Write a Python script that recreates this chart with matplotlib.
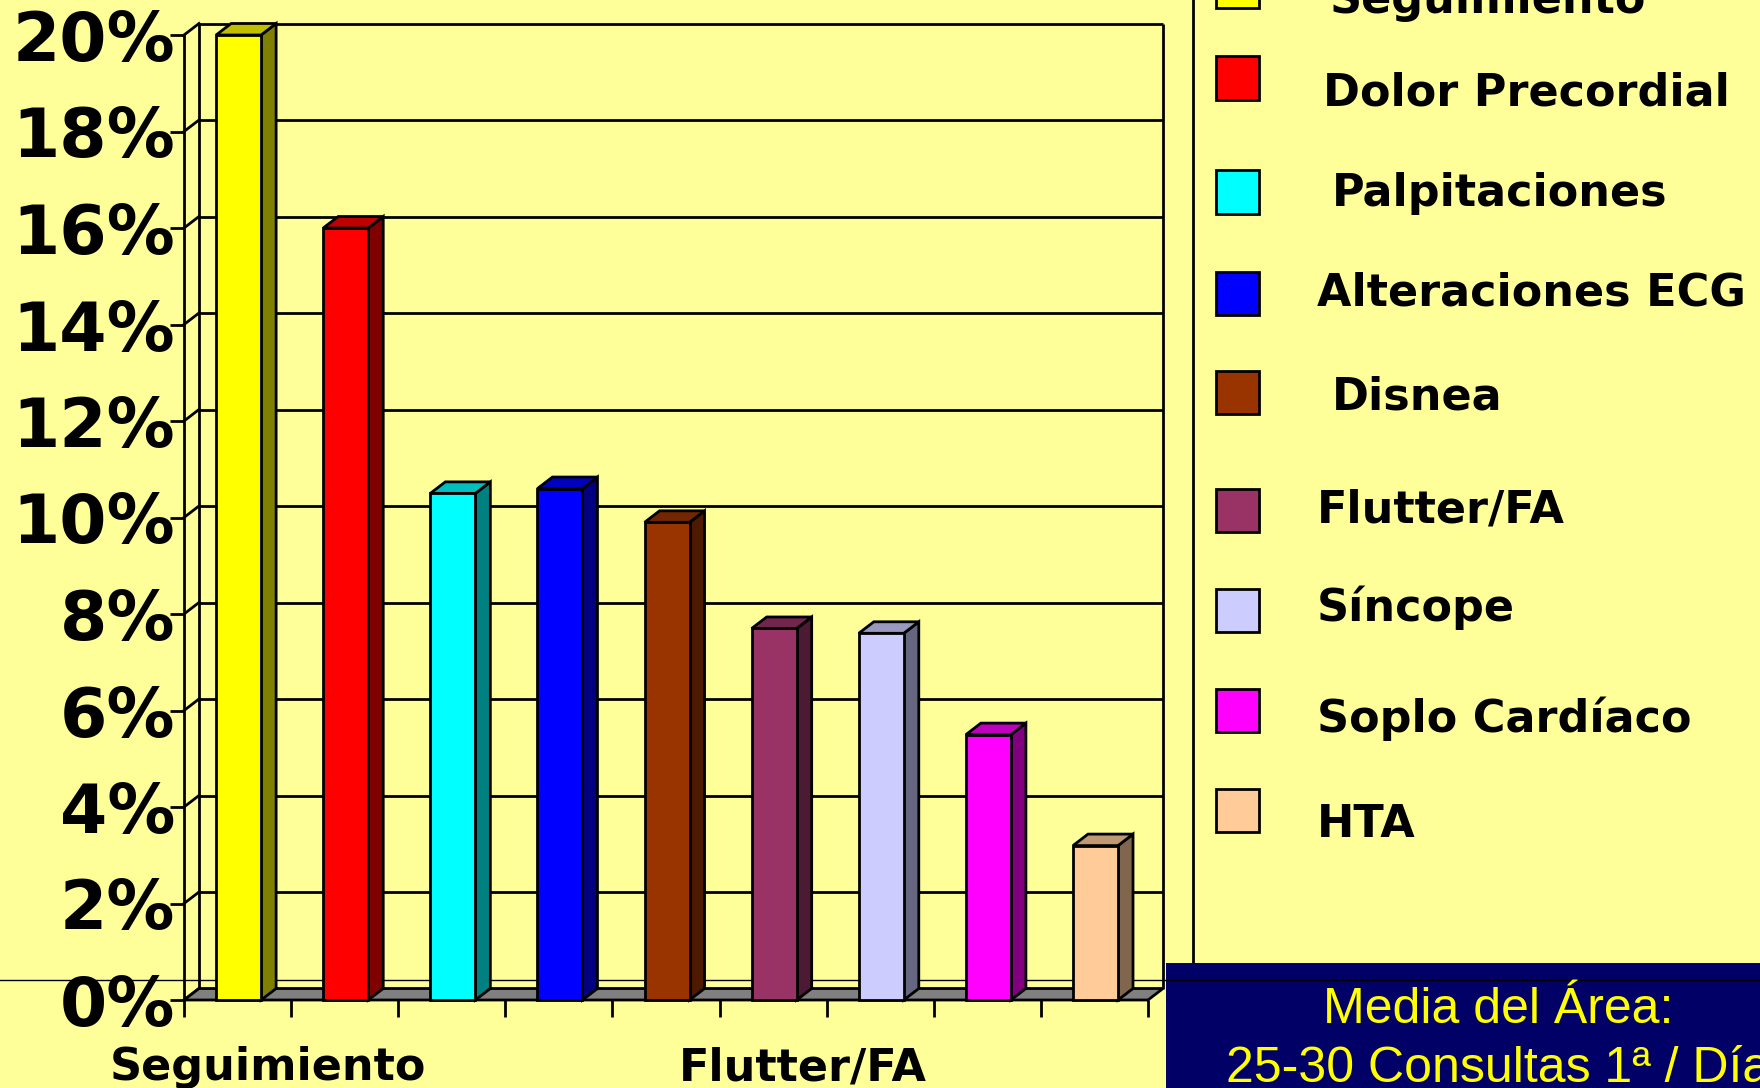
import numpy as np
import matplotlib.pyplot as plt
from matplotlib.patches import Polygon, Rectangle
from matplotlib.lines import Line2D
from matplotlib.colors import to_rgb

# data
categories = ["Seguimiento", "Dolor Precordial", "Palpitaciones", "Alteraciones ECG",
              "Disnea", "Flutter/FA", "Síncope", "Soplo Cardíaco", "HTA"]
values = [20.0, 16.0, 10.5, 10.6, 9.9, 7.7, 7.6, 5.5, 3.2]
colors = ["#FFFF00", "#FF0000", "#00FFFF", "#0000FF", "#993300",
          "#993366", "#CCCCFF", "#FF00FF", "#FFCC99"]
y_ticks = np.arange(0, 21, 2)
y_ticklabels = [f"{t}%" for t in y_ticks]
shown_xlabels = [0, 5]
note_lines = ["Media del Área:", "25-30 Consultas 1ª / Día"]

W, H = 1760, 1088
BG = "#FFFF99"


def fx(px):
    return px / W


def fy(py):
    return 1 - py / H


def shade(c, k):
    r, g, b = to_rgb(c)
    return (r * k, g * k, b * k)


fig = plt.figure(figsize=(W / 100, H / 100), dpi=100, facecolor=BG)
ax = fig.add_axes([fx(184), fy(1000), (1148 - 184) / W, (1000 - 35) / H])
ax.set_facecolor("none")
n = len(categories)
ax.set_xlim(0, n)
ax.set_ylim(0, 20)

# depth of the 3d look, in data units
DX = 15 / ((1148 - 184) / n)
DY = 11.5 / ((1000 - 35) / 20)
lw = 2

# back wall + grid
ax.hlines(y_ticks[1:] + DY, DX, n + DX, color="black", lw=lw, zorder=1, clip_on=False)
ax.vlines([DX, n + DX], DY, 20 + DY, color="black", lw=lw, zorder=1, clip_on=False)
for t in y_ticks:
    ax.plot([0, DX], [t, t + DY], color="black", lw=lw, zorder=1, clip_on=False)

# decorations in figure coordinates (kept under the bars)
ax.add_line(Line2D([fx(1193), fx(1193)], [0, 1], transform=fig.transFigure,
                   color="black", lw=lw, zorder=0.5, clip_on=False))
ax.add_patch(Rectangle((fx(1166), 0), 1, fy(963), transform=fig.transFigure,
                       facecolor="#000066", edgecolor="none", zorder=1.5, clip_on=False))
ax.add_line(Line2D([0, 1], [fy(980), fy(980)], transform=fig.transFigure,
                   color="black", lw=1, zorder=2, clip_on=False))

# floor
ax.add_patch(Polygon([(0, 0), (n, 0), (n + DX, DY), (DX, DY)], closed=True,
                     facecolor="#808080", edgecolor="black", lw=lw, zorder=3, clip_on=False))

# bars
x = np.arange(n)
bx0 = x + 0.30
bw = 0.42
for xl, v, c in zip(bx0, values, colors):
    xr = xl + bw
    ax.add_patch(Polygon([(xr, 0), (xr + DX, DY), (xr + DX, v + DY), (xr, v)], closed=True,
                         facecolor=shade(c, 0.5), edgecolor="black", lw=lw, zorder=4, clip_on=False))
    ax.add_patch(Polygon([(xl, v), (xr, v), (xr + DX, v + DY), (xl + DX, v + DY)], closed=True,
                         facecolor=shade(c, 0.75), edgecolor="black", lw=lw, zorder=4, clip_on=False))
ax.bar(bx0, values, width=bw, align="edge", color=colors, edgecolor="black",
       linewidth=lw, zorder=5, clip_on=False)

# axes
for side in ["top", "right", "bottom"]:
    ax.spines[side].set_visible(False)
ax.spines["left"].set_linewidth(lw)
ax.set_yticks(y_ticks)
ax.set_yticklabels(y_ticklabels, fontsize=49, fontweight="bold")
ax.tick_params(axis="y", length=10, width=lw, pad=-3.5)
ax.set_xticks(np.arange(n + 1))
ax.set_xticklabels([])
ax.tick_params(axis="x", length=12, width=lw)
for i in shown_xlabels:
    ax.annotate(categories[i], xy=(i + 0.78, 0), xycoords="data",
                xytext=(0, -57.6), textcoords="offset points", ha="center", va="baseline",
                fontsize=32, fontweight="bold", annotation_clip=False)

# legend (runs off the slide like the original)
sq_centers = [-14, 78, 192, 293, 392, 510, 610, 710, 810]
text_base = [13, 105, 206, 306, 410, 522, 621, 732, 837]
text_x = [1330, 1323, 1332, 1317, 1332, 1317, 1317, 1317, 1317]
for i, (lab, c) in enumerate(zip(categories, colors)):
    fig.add_artist(Rectangle((fx(1216), fy(sq_centers[i] + 21.5)), 43 / W, 43 / H,
                             transform=fig.transFigure, facecolor=c, edgecolor="black", lw=lw))
    fig.text(fx(text_x[i]), fy(text_base[i]), lab, ha="left", va="baseline",
             fontsize=32, fontweight="bold")

# note box text
for line, yb in zip(note_lines, [1023, 1082]):
    fig.text(fx(1498), fy(yb), line, ha="center", va="baseline", color="#FFFF00",
             fontsize=36, family="Liberation Sans")

plt.savefig("out.png", dpi=100, facecolor=BG)
